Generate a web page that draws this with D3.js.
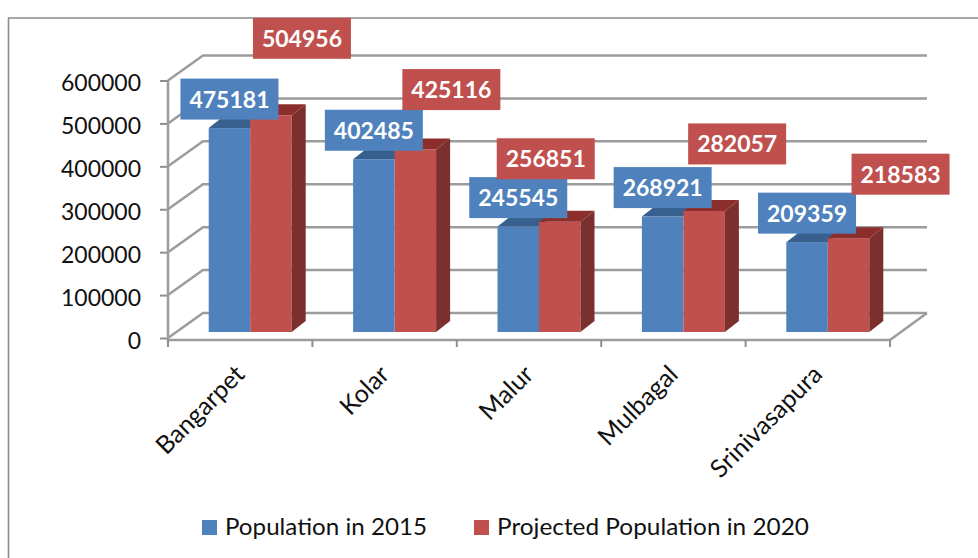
<!DOCTYPE html>
<html>
<head>
<meta charset="utf-8">
<style>
  html, body { margin: 0; padding: 0; background: #fff; }
  svg { display: block; }
  text { font-family: Lato, "Open Sans", sans-serif; fill: #111; }
  .grid { fill: none; stroke: #9c9c9c; stroke-width: 2.5; }
  .axis path.domain { display: none; }
  .axis line { stroke: #8f8f8f; stroke-width: 2; }
</style>
</head>
<body>
<div id="chart"></div>
<script src="https://d3js.org/d3.v7.min.js"></script>
<script>
  const categories = ["Bangarpet", "Kolar", "Malur", "Mulbagal", "Srinivasapura"];
  const population2015 = [475181, 402485, 245545, 268921, 209359];
  const projected2020 = [504956, 425116, 256851, 282057, 218583];
  const yTicks = [0, 100000, 200000, 300000, 400000, 500000, 600000];
  const seriesNames = ["Population in 2015", "Projected Population in 2020"];

  // hand placed data labels, offset from the top of each bar
  const labelDx2020 = [31, 36, -14, 33, 52];
  const labelDy2020 = [-77, -60, -63, -67, -64];

  const width = 978, height = 558;
  const colors = [
    { front: "#4f81bd", top: "#38608f" },
    { front: "#c0504d", top: "#8c2f2c", side: "#7b302e" }
  ];

  // 3d offsets: back wall and bar depth
  const wallX = 35, wallY = -25;
  const barShiftX = 8, barShiftY = -6;
  const depthX = 14, depthY = -11;

  const svg = d3.select("#chart").append("svg")
    .attr("width", width)
    .attr("height", height);

  // chart frame, open on the right and the bottom
  svg.append("path")
    .attr("d", "M8.5,558V18H978")
    .attr("fill", "none")
    .attr("stroke", "#8c8c8c")
    .attr("stroke-width", 1.6);

  const y = d3.scaleLinear().domain([0, 600000]).range([338, 80.5]);
  const x = d3.scaleBand().domain(categories).range([168, 890]);
  const barW = 41.5;
  const barX = (i, s) => x(categories[i]) + barShiftX + 32.7 + s * barW;

  // walls and gridlines
  const grid = svg.append("g");
  grid.selectAll("path")
    .data(yTicks)
    .join("path")
    .attr("class", "grid")
    .attr("d", d => `M168,${y(d)}L${168 + wallX},${y(d) + wallY}H927`);
  grid.append("path")
    .attr("class", "grid")
    .attr("d", `M890,340L927,${y(0) + wallY}`);

  // y axis
  svg.append("g")
    .attr("class", "axis")
    .attr("transform", "translate(168,0)")
    .call(d3.axisLeft(y).tickValues(yTicks).tickSize(8).tickPadding(19).tickFormat(d3.format("d")))
    .call(g => g.selectAll("text")
      .attr("font-size", 23)
      .attr("font-family", "Lato")
      .attr("fill", "#111")
      .attr("dy", "0.45em"));
  svg.append("path")
    .attr("class", "grid")
    .attr("d", `M168,${y(600000)}V342`);

  // x axis, ticks sit between the categories
  svg.append("path")
    .attr("class", "grid")
    .attr("d", "M167,340H890");
  svg.append("g")
    .selectAll("line")
    .data(d3.range(categories.length + 1))
    .join("line")
    .attr("x1", i => 168 + i * x.step())
    .attr("x2", i => 168 + i * x.step())
    .attr("y1", 340)
    .attr("y2", 347)
    .attr("stroke", "#8f8f8f")
    .attr("stroke-width", 2);

  svg.append("g")
    .attr("class", "axis")
    .attr("transform", "translate(0,340)")
    .call(d3.axisBottom(x).tickSize(0).tickPadding(0))
    .call(g => g.selectAll("text")
      .attr("font-size", 25)
      .attr("font-family", "Lato")
      .attr("fill", "#111")
      .attr("text-anchor", "end")
      .attr("dy", 0)
      .attr("y", 0)
      .attr("transform", "translate(6,36) rotate(-45)"));

  // bars
  const series = [population2015, projected2020];
  const base = y(0) + barShiftY;
  const h = v => y(0) - y(v);

  categories.forEach((c, i) => {
    series.forEach((vals, s) => {
      const x0 = barX(i, s), top = base - h(vals[i]);
      const g = svg.append("g");
      g.append("rect")
        .attr("x", x0).attr("y", top)
        .attr("width", barW).attr("height", base - top)
        .attr("fill", colors[s].front);
      g.append("path")
        .attr("d", `M${x0},${top}l${depthX},${depthY}h${barW}l${-depthX},${-depthY}Z`)
        .attr("fill", colors[s].top);
      if (colors[s].side) {
        g.append("path")
          .attr("d", `M${x0 + barW},${top}l${depthX},${depthY}V${base + depthY}l${-depthX},${-depthY}Z`)
          .attr("fill", colors[s].side);
      }
    });
  });

  // data labels
  const boxW = 98, boxH = 41;
  function dataLabel(cx, cy, value, fill) {
    const g = svg.append("g").attr("transform", `translate(${cx},${cy})`);
    g.append("rect")
      .attr("x", -boxW / 2).attr("y", -boxH / 2)
      .attr("width", boxW).attr("height", boxH)
      .attr("fill", fill);
    g.append("text")
      .attr("text-anchor", "middle")
      .attr("y", 8.5)
      .attr("font-size", 23)
      .attr("font-weight", 700)
      .style("fill", "#fff")
      .text(value);
  }
  categories.forEach((c, i) => {
    dataLabel(barX(i, 0) + barW / 2, base - h(population2015[i]) - 29, population2015[i], colors[0].front);
  });
  categories.forEach((c, i) => {
    dataLabel(barX(i, 1) + barW / 2 + labelDx2020[i], base - h(projected2020[i]) + labelDy2020[i], projected2020[i], colors[1].front);
  });

  // legend
  const legendX = [202, 474];
  const legendW = [202, 312];
  seriesNames.forEach((name, i) => {
    svg.append("rect")
      .attr("x", legendX[i]).attr("y", 520)
      .attr("width", 15).attr("height", 15)
      .attr("fill", colors[i].front);
    svg.append("text")
      .attr("x", legendX[i] + 23).attr("y", 535)
      .attr("font-size", 24)
      .attr("textLength", legendW[i])
      .attr("lengthAdjust", "spacingAndGlyphs")
      .text(name);
  });
</script>
</body>
</html>
